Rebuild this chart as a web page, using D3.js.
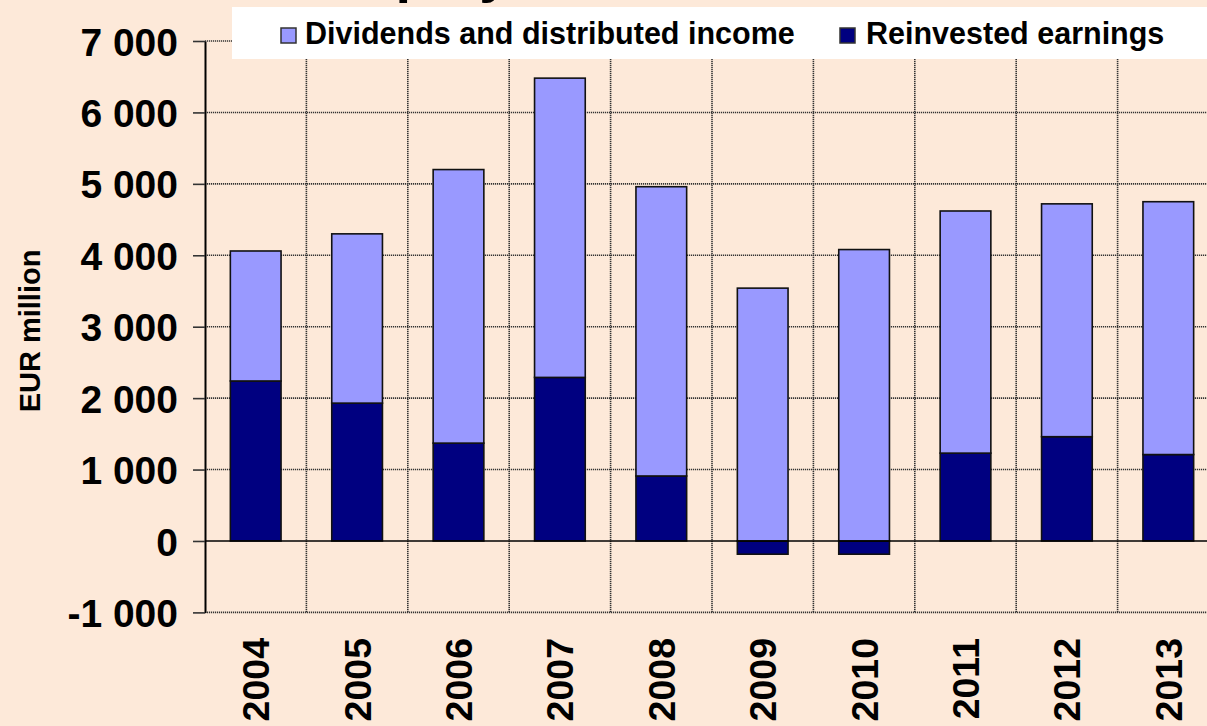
<!DOCTYPE html>
<html>
<head>
<meta charset="utf-8">
<script src="https://cdn.jsdelivr.net/npm/d3@7"></script>
<style>
  html, body { margin: 0; padding: 0; background: #FDE9D9; }
  svg { display: block; }
  text { font-family: "Liberation Sans", Arial, sans-serif; font-weight: bold; fill: #000; }
</style>
</head>
<body>
<svg id="chart" width="1207" height="726"></svg>
<script>
// ---- data ----
const years = ["2004", "2005", "2006", "2007", "2008", "2009", "2010", "2011", "2012", "2013"];
const dividends = [1820, 2370, 3830, 4190, 4050, 3540, 4080, 3390, 3260, 3540];
const reinvested = [2240, 1930, 1370, 2290, 910, -185, -185, 1230, 1460, 1210];
const yTicks = [-1000, 0, 1000, 2000, 3000, 4000, 5000, 6000, 7000];
const seriesNames = ["Dividends and distributed income", "Reinvested earnings"];
const seriesKeys = ["reinvested", "dividends"];
const colors = { dividends: "#9999FF", reinvested: "#000080" };
const titleText = "Income on equity";
const yTitle = "EUR million";

(function () {
  const W = 1207, H = 726;
  const svg = d3.select("#chart");
  svg.append("rect").attr("width", W).attr("height", H).attr("fill", "#FDE9D9");

  const pLeft = 205, pRight = 1219, pTop = 41, pBottom = 612.4;
  const x = d3.scaleBand().domain(years).range([pLeft, pRight]).paddingInner(0.5).paddingOuter(0.25);
  const y = d3.scaleLinear().domain([-1000, 7000]).range([pBottom, pTop]);

  const table = years.map((yr, i) => ({ year: yr, dividends: dividends[i], reinvested: reinvested[i] }));
  const stacked = d3.stack().keys(seriesKeys).offset(d3.stackOffsetDiverging)(table);

  // gridlines
  const grid = svg.append("g").attr("stroke", "#333").attr("stroke-width", 1.6).attr("stroke-dasharray", "1.2,0.8");
  grid.selectAll("line.h").data(yTicks.filter(v => v !== 0)).join("line")
    .attr("x1", pLeft).attr("x2", pRight)
    .attr("y1", d => y(d)).attr("y2", d => y(d));
  grid.selectAll("line.v").data(d3.range(1, years.length + 1)).join("line")
    .attr("x1", i => pLeft + i * x.step()).attr("x2", i => pLeft + i * x.step())
    .attr("y1", y(7000)).attr("y2", y(-1000));

  // bars
  svg.append("g").selectAll("g").data(stacked).join("g")
    .attr("fill", d => colors[d.key])
    .selectAll("rect").data(d => d).join("rect")
    .attr("x", d => x(d.data.year))
    .attr("width", x.bandwidth())
    .attr("y", d => y(Math.max(d[0], d[1])))
    .attr("height", d => Math.abs(y(d[0]) - y(d[1])))
    .attr("stroke", "#111").attr("stroke-width", 1.6);

  // zero line
  svg.append("line").attr("x1", pLeft).attr("x2", pRight).attr("y1", y(0)).attr("y2", y(0))
    .attr("stroke", "#000").attr("stroke-width", 1.6);

  // y axis
  const fmt = d3.formatLocale({ decimal: ",", thousands: " ", grouping: [3], currency: ["", ""], minus: "-" }).format(",d");
  const yAxis = svg.append("g").attr("transform", `translate(${pLeft},0)`)
    .call(d3.axisLeft(y).tickValues(yTicks).tickSize(12).tickSizeOuter(0).tickPadding(15).tickFormat(fmt));
  yAxis.select(".domain").attr("stroke", "#000").attr("stroke-width", 2);
  yAxis.selectAll(".tick line").attr("stroke", "#333").attr("stroke-width", 1.6);
  yAxis.selectAll(".tick text").attr("font-size", 39).attr("font-family", "Liberation Sans, Arial, sans-serif")
    .attr("font-weight", "bold").attr("fill", "#000").attr("dy", "0.36em");

  // x labels
  svg.append("g").selectAll("text").data(years).join("text")
    .attr("transform", d => `translate(${x(d) + x.bandwidth() / 2},638) rotate(-90)`)
    .attr("text-anchor", "end").attr("dy", "0.36em")
    .attr("font-size", 37.5)
    .text(d => d);

  // y title
  svg.append("text").attr("transform", "translate(40,331) rotate(-90)")
    .attr("text-anchor", "middle").attr("font-size", 29).text(yTitle);

  // legend
  const lg = svg.append("g");
  lg.append("rect").attr("x", 232).attr("y", 7).attr("width", 1000).attr("height", 52).attr("fill", "#fff");
  const legendItems = [
    { name: seriesNames[0], color: colors.dividends, sx: 281, tx: 305 },
    { name: seriesNames[1], color: colors.reinvested, sx: 840, tx: 866 }
  ];
  legendItems.forEach(it => {
    lg.append("rect").attr("x", it.sx).attr("y", 28).attr("width", 15).attr("height", 15)
      .attr("fill", it.color).attr("stroke", "#333").attr("stroke-width", 1.5);
    lg.append("text").attr("x", it.tx).attr("y", 44).attr("font-size", 30.5).text(it.name);
  });

  // title (mostly above the visible area, as in the reference)
  svg.append("text").attr("x", 50).attr("y", -9).attr("font-size", 56).text(titleText);
})();
</script>
</body>
</html>
